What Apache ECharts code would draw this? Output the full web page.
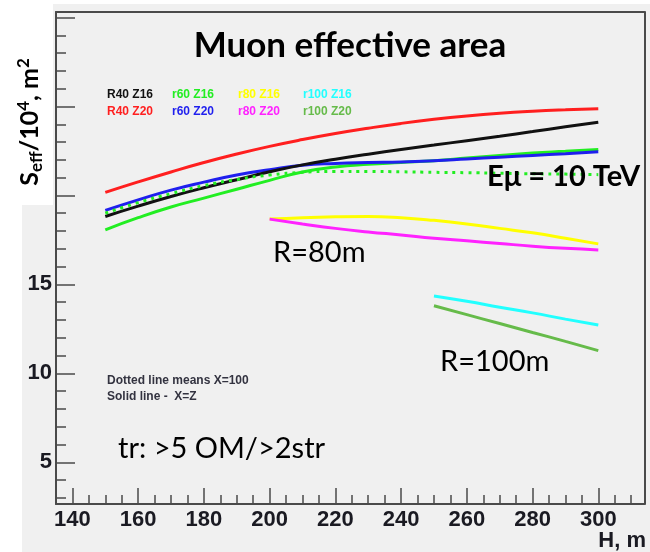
<!DOCTYPE html>
<html>
<head>
<meta charset="utf-8">
<script src="https://cdn.jsdelivr.net/npm/echarts@6/dist/echarts.min.js"></script>
<style>
  html, body { margin: 0; padding: 0; background: #ffffff; }
  #chart { width: 650px; height: 552px; }
</style>
</head>
<body>
<div id="chart"></div>
<script>
// Depth H (m) sampled every 10 m
const depthFull = [150, 160, 170, 180, 190, 200, 210, 220, 230, 240, 250, 260, 270, 280, 290, 300];
const depthR80  = [200, 210, 220, 230, 240, 250, 260, 270, 280, 290, 300];
const depthR100 = [250, 260, 270, 280, 290, 300];

// Effective area, units of 10^4 m^2
const r40z16 = [18.82, 19.40, 19.94, 20.43, 20.88, 21.33, 21.72, 22.04, 22.32, 22.58, 22.83, 23.08, 23.33, 23.59, 23.86, 24.12];
const r40z20 = [20.17, 20.76, 21.32, 21.85, 22.33, 22.76, 23.14, 23.48, 23.78, 24.05, 24.28, 24.47, 24.62, 24.73, 24.81, 24.87];
const r60z16 = [18.07, 18.75, 19.35, 19.85, 20.35, 20.85, 21.32, 21.60, 21.75, 21.85, 21.95, 22.10, 22.25, 22.38, 22.48, 22.58];
const r60z20 = [19.16, 19.75, 20.30, 20.75, 21.15, 21.45, 21.70, 21.80, 21.85, 21.88, 21.95, 22.05, 22.15, 22.25, 22.35, 22.45];
const r60x100 = [19.00, 19.60, 20.10, 20.55, 20.90, 21.15, 21.30, 21.35, 21.35, 21.33, 21.30, 21.28, 21.25, 21.22, 21.20, 21.17];
const r80z16 = [18.67, 18.75, 18.80, 18.82, 18.75, 18.60, 18.40, 18.15, 17.90, 17.60, 17.28];
const r80z20 = [18.67, 18.40, 18.15, 17.95, 17.78, 17.60, 17.45, 17.30, 17.15, 17.03, 16.94];
const r100z16 = [14.35, 14.05, 13.72, 13.40, 13.05, 12.72];
const r100z20 = [13.80, 13.30, 12.80, 12.30, 11.80, 11.28];

// Axis ticks
const xMajor = [140, 160, 180, 200, 220, 240, 260, 280, 300];
const xMinor = [145, 150, 155, 165, 170, 175, 185, 190, 195, 205, 210, 215, 225, 230, 235,
                245, 250, 255, 265, 270, 275, 285, 290, 295, 305, 310];
const yMajor = [5, 10, 15, 20, 25, 30];
const yLabels = [5, 10, 15];
const yMinor = [3, 4, 6, 7, 8, 9, 11, 12, 13, 14, 16, 17, 18, 19, 21, 22, 23, 24, 26, 27, 28, 29];

// Legend rows (text labels drawn in series colours)
const legendRow1 = ['R40 Z16', 'r60 Z16', 'r80 Z16', 'r100 Z16'];
const legendRow2 = ['R40 Z20', 'r60 Z20', 'r80 Z20', 'r100 Z20'];

const C = {
  black: '#111111', red: '#ff1f1f', green: '#22ee22', blue: '#1f1fee',
  yellow: '#ffff00', magenta: '#ff22ff', cyan: '#22ffff', green2: '#66bb4a'
};
const legendColors1 = [C.black, C.green, C.yellow, C.cyan];
const legendColors2 = [C.red, C.blue, C.magenta, C.green2];

const zip = (xs, ys) => xs.map((x, i) => [x, ys[i]]);

const AX = '#4a4a4a';
const LABEL_FONT = '"Liberation Sans", Arial, sans-serif';
const TEXT_FONT = 'Lato, "Open Sans", sans-serif';

function lineSeries(name, xs, ys, color, dashed) {
  return {
    type: 'line', name, data: zip(xs, ys), smooth: 0.5,
    showSymbol: false, symbol: 'none',
    lineStyle: { color, width: 3, type: dashed ? [3, 5] : 'solid' },
    emphasis: { disabled: true }
  };
}

const chart = echarts.init(document.getElementById('chart'), null, { renderer: 'canvas' });

const legendX = [107, 172, 238, 303];
const graphics = [
  // plot background panels
  { type: 'rect', z: -5, silent: true, shape: { x: 53, y: 4, width: 597, height: 201 }, style: { fill: '#f0f0f0' } },
  { type: 'rect', z: -5, silent: true, shape: { x: 22, y: 205, width: 628, height: 347 }, style: { fill: '#f0f0f0' } },
  { type: 'text', z: 10, x: 350, y: 46, style: { text: 'Muon effective area', font: 'bold 35px ' + TEXT_FONT, fill: '#000', align: 'center', verticalAlign: 'middle' } },
  { type: 'text', z: 10, x: 487, y: 177, style: { text: 'Eμ = 10 TeV', font: 'bold 29px ' + TEXT_FONT, fill: '#000', align: 'left', verticalAlign: 'middle' } },
  { type: 'text', z: 10, x: 273, y: 253, style: { text: 'R=80m', font: '29px ' + TEXT_FONT, fill: '#000', align: 'left', verticalAlign: 'middle' } },
  { type: 'text', z: 10, x: 440, y: 362, style: { text: 'R=100m', font: '29px ' + TEXT_FONT, fill: '#000', align: 'left', verticalAlign: 'middle' } },
  { type: 'text', z: 10, x: 118, y: 449, style: { text: 'tr: >5 OM/>2str', font: '29px ' + TEXT_FONT, fill: '#000', align: 'left', verticalAlign: 'middle' } },
  { type: 'text', z: 10, x: 107, y: 381, style: { text: 'Dotted line means X=100', font: 'bold 12px ' + LABEL_FONT, fill: '#333340', align: 'left', verticalAlign: 'middle' } },
  { type: 'text', z: 10, x: 107, y: 397, style: { text: 'Solid line -  X=Z', font: 'bold 12px ' + LABEL_FONT, fill: '#333340', align: 'left', verticalAlign: 'middle' } },
  { type: 'text', z: 10, x: 646, y: 541, style: { text: 'H, m', font: 'bold 22px ' + LABEL_FONT, fill: '#1a1a22', align: 'right', verticalAlign: 'middle' } },
  {
    type: 'text', z: 10, x: 30, y: 122, rotation: Math.PI / 2,
    style: {
      text: '{s|S}{sub|eff}{s|/10}{sup|4}{s|, m}{sup|2}',
      align: 'center', verticalAlign: 'middle', fill: '#000',
      rich: {
        s: { fontSize: 25, fontWeight: 'bold', fontFamily: TEXT_FONT, lineHeight: 30, verticalAlign: 'middle' },
        sub: { fontSize: 17, fontWeight: 'bold', fontFamily: TEXT_FONT, lineHeight: 30, verticalAlign: 'bottom' },
        sup: { fontSize: 17, fontWeight: 'bold', fontFamily: TEXT_FONT, lineHeight: 30, verticalAlign: 'top' }
      }
    }
  }
];
legendRow1.forEach((t, i) => graphics.push({ type: 'text', z: 10, x: legendX[i], y: 94.5,
  style: { text: t, font: 'bold 12px ' + LABEL_FONT, fill: legendColors1[i], align: 'left', verticalAlign: 'middle' } }));
legendRow2.forEach((t, i) => graphics.push({ type: 'text', z: 10, x: legendX[i], y: 111.5,
  style: { text: t, font: 'bold 12px ' + LABEL_FONT, fill: legendColors2[i], align: 'left', verticalAlign: 'middle' } }));

const X_MIN = 135, X_MAX = 314, Y_MIN = 2.66, Y_MAX = 30.31;

const option = {
  backgroundColor: '#ffffff',
  animation: false,
  grid: { left: 56, right: 5.7, top: 12, bottom: 48, containLabel: false },
  xAxis: [
    {
      type: 'value', min: X_MIN, max: X_MAX, position: 'bottom',
      axisLine: { show: true, onZero: false, lineStyle: { color: AX, width: 2 } },
      axisTick: { show: true, inside: true, length: 16, customValues: xMajor, lineStyle: { color: AX, width: 1.5 } },
      axisLabel: { show: true, customValues: xMajor, margin: 5, color: '#1a1a22', fontSize: 22, fontWeight: 'bold', fontFamily: LABEL_FONT },
      splitLine: { show: false }
    },
    {
      type: 'value', min: X_MIN, max: X_MAX, position: 'bottom',
      axisLine: { show: false },
      axisTick: { show: true, inside: true, length: 9, customValues: xMinor, lineStyle: { color: AX, width: 1.5 } },
      axisLabel: { show: false }, splitLine: { show: false }
    },
    {
      type: 'value', min: X_MIN, max: X_MAX, position: 'top',
      axisLine: { show: true, onZero: false, lineStyle: { color: AX, width: 2 } },
      axisTick: { show: false }, axisLabel: { show: false }, splitLine: { show: false }
    }
  ],
  yAxis: [
    {
      type: 'value', min: Y_MIN, max: Y_MAX, position: 'left',
      axisLine: { show: true, onZero: false, lineStyle: { color: AX, width: 2 } },
      axisTick: { show: true, inside: true, length: 19, customValues: yMajor, lineStyle: { color: AX, width: 1.5 } },
      axisLabel: { show: true, customValues: yLabels, margin: 4, color: '#1a1a22', fontSize: 22, fontWeight: 'bold', fontFamily: LABEL_FONT },
      splitLine: { show: false }
    },
    {
      type: 'value', min: Y_MIN, max: Y_MAX, position: 'left',
      axisLine: { show: false },
      axisTick: { show: true, inside: true, length: 10, customValues: yMinor, lineStyle: { color: AX, width: 1.5 } },
      axisLabel: { show: false }, splitLine: { show: false }
    },
    {
      type: 'value', min: Y_MIN, max: Y_MAX, position: 'right',
      axisLine: { show: true, onZero: false, lineStyle: { color: AX, width: 2 } },
      axisTick: { show: false }, axisLabel: { show: false }, splitLine: { show: false }
    }
  ],
  graphic: graphics,
  series: [
    lineSeries('r60 Z16', depthFull, r60z16, C.green),
    lineSeries('r60 Z20', depthFull, r60z20, C.blue),
    lineSeries('R40 Z16', depthFull, r40z16, C.black),
    lineSeries('r60 Z16, X=100', depthFull, r60x100, C.green, true),
    lineSeries('R40 Z20', depthFull, r40z20, C.red),
    lineSeries('r80 Z16', depthR80, r80z16, C.yellow),
    lineSeries('r80 Z20', depthR80, r80z20, C.magenta),
    lineSeries('r100 Z16', depthR100, r100z16, C.cyan),
    lineSeries('r100 Z20', depthR100, r100z20, C.green2)
  ]
};

chart.setOption(option);
</script>
</body>
</html>
